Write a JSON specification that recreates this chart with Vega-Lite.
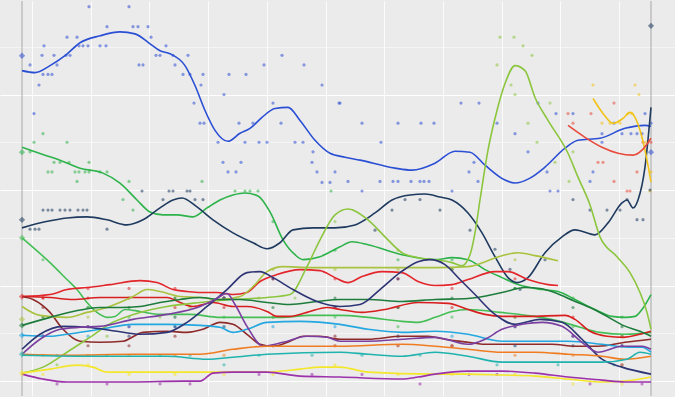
{
"$schema":"https://vega.github.io/schema/vega-lite/v6.json",
"width":675,"height":397,"autosize":{"type":"fit","contains":"padding"},"padding":0,
"background":"#EBEBEB",
"config":{"view":{"fill":"#EBEBEB","stroke":null}},
"datasets":{
"elections":[{"day":0},{"day":1887}],
"lines":[
{"p":"Blue","d":0,"v":32.5},{"p":"Blue","d":39,"v":32.29},{"p":"Blue","d":84,"v":33.02},{"p":"Blue","d":129,"v":34.06},{"p":"Blue","d":174,"v":35.42},{"p":"Blue","d":234,"v":36.15},{"p":"Blue","d":294,"v":36.56},{"p":"Blue","d":339,"v":36.35},{"p":"Blue","d":384,"v":35.31},{"p":"Blue","d":414,"v":34.58},{"p":"Blue","d":444,"v":34.27},{"p":"Blue","d":489,"v":33.02},{"p":"Blue","d":519,"v":30.94},{"p":"Blue","d":549,"v":28.33},{"p":"Blue","d":579,"v":26.25},{"p":"Blue","d":618,"v":25.1},{"p":"Blue","d":654,"v":25.94},{"p":"Blue","d":684,"v":26.46},{"p":"Blue","d":720,"v":27.6},{"p":"Blue","d":759,"v":28.54},{"p":"Blue","d":798,"v":28.65},{"p":"Blue","d":834,"v":27.29},{"p":"Blue","d":879,"v":25.21},{"p":"Blue","d":924,"v":23.85},{"p":"Blue","d":969,"v":23.44},{"p":"Blue","d":1014,"v":23.13},{"p":"Blue","d":1119,"v":22.29},{"p":"Blue","d":1170,"v":22.08},{"p":"Blue","d":1239,"v":22.81},{"p":"Blue","d":1299,"v":24.06},{"p":"Blue","d":1344,"v":23.96},{"p":"Blue","d":1389,"v":22.6},{"p":"Blue","d":1449,"v":21.04},{"p":"Blue","d":1479,"v":20.73},{"p":"Blue","d":1524,"v":21.25},{"p":"Blue","d":1569,"v":22.4},{"p":"Blue","d":1629,"v":24.38},{"p":"Blue","d":1668,"v":25.21},{"p":"Blue","d":1734,"v":25.42},{"p":"Blue","d":1809,"v":26.46},{"p":"Blue","d":1869,"v":26.77},{"p":"Blue","d":1887,"v":26.67},
{"p":"Green","d":0,"v":24.48},{"p":"Green","d":69,"v":23.65},{"p":"Green","d":114,"v":23.13},{"p":"Green","d":174,"v":22.29},{"p":"Green","d":243,"v":21.77},{"p":"Green","d":294,"v":20.73},{"p":"Green","d":345,"v":18.96},{"p":"Green","d":384,"v":17.71},{"p":"Green","d":423,"v":17.4},{"p":"Green","d":465,"v":17.4},{"p":"Green","d":513,"v":17.19},{"p":"Green","d":555,"v":18.13},{"p":"Green","d":594,"v":18.96},{"p":"Green","d":633,"v":19.48},{"p":"Green","d":669,"v":19.69},{"p":"Green","d":708,"v":19.38},{"p":"Green","d":744,"v":17.71},{"p":"Green","d":783,"v":14.79},{"p":"Green","d":819,"v":13.23},{"p":"Green","d":843,"v":12.71},{"p":"Green","d":894,"v":13.02},{"p":"Green","d":954,"v":14.06},{"p":"Green","d":990,"v":14.58},{"p":"Green","d":1038,"v":14.27},{"p":"Green","d":1140,"v":13.23},{"p":"Green","d":1239,"v":12.71},{"p":"Green","d":1290,"v":12.92},{"p":"Green","d":1338,"v":12.71},{"p":"Green","d":1389,"v":11.67},{"p":"Green","d":1440,"v":10.83},{"p":"Green","d":1488,"v":10.1},{"p":"Green","d":1560,"v":9.58},{"p":"Green","d":1608,"v":9.38},{"p":"Green","d":1659,"v":8.54},{"p":"Green","d":1719,"v":7.5},{"p":"Green","d":1770,"v":6.77},{"p":"Green","d":1809,"v":6.67},{"p":"Green","d":1839,"v":6.77},{"p":"Green","d":1860,"v":7.5},{"p":"Green","d":1887,"v":9.06},
{"p":"Green2","d":0,"v":15.0},{"p":"Green2","d":84,"v":12.4},{"p":"Green2","d":135,"v":10.63},{"p":"Green2","d":165,"v":9.58},{"p":"Green2","d":195,"v":8.23},{"p":"Green2","d":225,"v":7.19},{"p":"Green2","d":255,"v":6.67},{"p":"Green2","d":279,"v":6.77},{"p":"Green2","d":309,"v":7.5},{"p":"Green2","d":354,"v":7.29},{"p":"Green2","d":414,"v":6.98},{"p":"Green2","d":504,"v":6.98},{"p":"Green2","d":594,"v":6.67},{"p":"Green2","d":684,"v":6.67},{"p":"Green2","d":774,"v":6.67},{"p":"Green2","d":864,"v":6.88},{"p":"Green2","d":954,"v":6.88},{"p":"Green2","d":1038,"v":6.67},{"p":"Green2","d":1140,"v":6.25},{"p":"Green2","d":1188,"v":6.15},{"p":"Green2","d":1239,"v":6.67},{"p":"Green2","d":1290,"v":7.29},{"p":"Green2","d":1338,"v":7.5},{"p":"Green2","d":1434,"v":7.19},{"p":"Green2","d":1539,"v":6.77},{"p":"Green2","d":1614,"v":6.25},{"p":"Green2","d":1674,"v":5.63},{"p":"Green2","d":1734,"v":5.1},{"p":"Green2","d":1809,"v":4.9},{"p":"Green2","d":1887,"v":5.1},
{"p":"Navy","d":0,"v":16.04},{"p":"Navy","d":69,"v":16.67},{"p":"Navy","d":135,"v":17.08},{"p":"Navy","d":195,"v":17.19},{"p":"Navy","d":255,"v":16.88},{"p":"Navy","d":315,"v":16.35},{"p":"Navy","d":363,"v":16.88},{"p":"Navy","d":414,"v":18.13},{"p":"Navy","d":453,"v":18.96},{"p":"Navy","d":480,"v":19.17},{"p":"Navy","d":525,"v":18.23},{"p":"Navy","d":573,"v":16.88},{"p":"Navy","d":633,"v":15.52},{"p":"Navy","d":693,"v":14.48},{"p":"Navy","d":735,"v":13.85},{"p":"Navy","d":774,"v":14.48},{"p":"Navy","d":813,"v":15.83},{"p":"Navy","d":873,"v":16.04},{"p":"Navy","d":939,"v":16.04},{"p":"Navy","d":999,"v":16.35},{"p":"Navy","d":1059,"v":17.6},{"p":"Navy","d":1110,"v":18.96},{"p":"Navy","d":1164,"v":19.48},{"p":"Navy","d":1209,"v":19.58},{"p":"Navy","d":1254,"v":19.27},{"p":"Navy","d":1290,"v":18.96},{"p":"Navy","d":1338,"v":17.6},{"p":"Navy","d":1380,"v":15.52},{"p":"Navy","d":1419,"v":13.02},{"p":"Navy","d":1458,"v":10.83},{"p":"Navy","d":1485,"v":10.31},{"p":"Navy","d":1518,"v":10.83},{"p":"Navy","d":1569,"v":13.44},{"p":"Navy","d":1620,"v":15.1},{"p":"Navy","d":1659,"v":15.83},{"p":"Navy","d":1719,"v":15.31},{"p":"Navy","d":1758,"v":16.56},{"p":"Navy","d":1800,"v":18.65},{"p":"Navy","d":1815,"v":18.96},{"p":"Navy","d":1833,"v":18.13},{"p":"Navy","d":1848,"v":18.96},{"p":"Navy","d":1869,"v":22.4},{"p":"Navy","d":1887,"v":28.65},
{"p":"Red","d":0,"v":8.85},{"p":"Red","d":84,"v":9.06},{"p":"Red","d":135,"v":9.58},{"p":"Red","d":195,"v":9.79},{"p":"Red","d":264,"v":10.1},{"p":"Red","d":354,"v":10.52},{"p":"Red","d":405,"v":10.31},{"p":"Red","d":453,"v":9.58},{"p":"Red","d":495,"v":9.38},{"p":"Red","d":534,"v":9.27},{"p":"Red","d":585,"v":9.27},{"p":"Red","d":633,"v":9.06},{"p":"Red","d":675,"v":9.27},{"p":"Red","d":714,"v":10.42},{"p":"Red","d":765,"v":11.15},{"p":"Red","d":834,"v":11.67},{"p":"Red","d":894,"v":11.56},{"p":"Red","d":939,"v":10.83},{"p":"Red","d":978,"v":10.31},{"p":"Red","d":1020,"v":10.94},{"p":"Red","d":1080,"v":11.46},{"p":"Red","d":1140,"v":11.35},{"p":"Red","d":1188,"v":10.42},{"p":"Red","d":1239,"v":10.0},{"p":"Red","d":1290,"v":10.1},{"p":"Red","d":1338,"v":10.63},{"p":"Red","d":1419,"v":11.46},{"p":"Red","d":1458,"v":11.46},{"p":"Red","d":1518,"v":10.63},{"p":"Red","d":1578,"v":10.1},{"p":"Red","d":1608,"v":10.0},
{"p":"Red2","d":0,"v":8.85},{"p":"Red2","d":84,"v":8.75},{"p":"Red2","d":153,"v":8.54},{"p":"Red2","d":234,"v":8.75},{"p":"Red2","d":315,"v":8.75},{"p":"Red2","d":384,"v":8.75},{"p":"Red2","d":435,"v":8.75},{"p":"Red2","d":474,"v":8.23},{"p":"Red2","d":513,"v":7.81},{"p":"Red2","d":573,"v":8.23},{"p":"Red2","d":633,"v":7.81},{"p":"Red2","d":675,"v":7.81},{"p":"Red2","d":735,"v":7.29},{"p":"Red2","d":765,"v":6.77},{"p":"Red2","d":804,"v":6.77},{"p":"Red2","d":855,"v":7.19},{"p":"Red2","d":915,"v":7.71},{"p":"Red2","d":954,"v":7.5},{"p":"Red2","d":1020,"v":7.19},{"p":"Red2","d":1089,"v":7.5},{"p":"Red2","d":1188,"v":8.23},{"p":"Red2","d":1278,"v":8.13},{"p":"Red2","d":1338,"v":7.5},{"p":"Red2","d":1389,"v":6.98},{"p":"Red2","d":1440,"v":6.77},{"p":"Red2","d":1518,"v":6.77},{"p":"Red2","d":1629,"v":6.88},{"p":"Red2","d":1659,"v":6.46},{"p":"Red2","d":1704,"v":5.21},{"p":"Red2","d":1755,"v":4.69},{"p":"Red2","d":1803,"v":4.58},{"p":"Red2","d":1854,"v":4.9},{"p":"Red2","d":1887,"v":5.21},
{"p":"Brown","d":0,"v":8.85},{"p":"Brown","d":33,"v":8.54},{"p":"Brown","d":84,"v":7.19},{"p":"Brown","d":123,"v":5.42},{"p":"Brown","d":174,"v":4.17},{"p":"Brown","d":234,"v":4.06},{"p":"Brown","d":303,"v":4.17},{"p":"Brown","d":363,"v":5.1},{"p":"Brown","d":435,"v":5.21},{"p":"Brown","d":495,"v":5.1},{"p":"Brown","d":543,"v":5.42},{"p":"Brown","d":594,"v":6.15},{"p":"Brown","d":633,"v":5.94},{"p":"Brown","d":675,"v":4.9},{"p":"Brown","d":714,"v":3.85},{"p":"Brown","d":753,"v":3.65},{"p":"Brown","d":804,"v":4.17},{"p":"Brown","d":843,"v":4.69},{"p":"Brown","d":894,"v":4.69},{"p":"Brown","d":954,"v":4.38},{"p":"Brown","d":1038,"v":4.38},{"p":"Brown","d":1140,"v":4.69},{"p":"Brown","d":1218,"v":4.69},{"p":"Brown","d":1269,"v":4.38},{"p":"Brown","d":1338,"v":4.06},{"p":"Brown","d":1389,"v":3.85},{"p":"Brown","d":1488,"v":3.85},{"p":"Brown","d":1590,"v":3.85},{"p":"Brown","d":1659,"v":3.65},{"p":"Brown","d":1728,"v":3.65},{"p":"Brown","d":1809,"v":4.06},{"p":"Brown","d":1887,"v":4.38},
{"p":"Olive","d":0,"v":7.81},{"p":"Olive","d":54,"v":6.88},{"p":"Olive","d":135,"v":6.67},{"p":"Olive","d":195,"v":7.19},{"p":"Olive","d":255,"v":7.71},{"p":"Olive","d":333,"v":8.85},{"p":"Olive","d":375,"v":9.58},{"p":"Olive","d":414,"v":9.38},{"p":"Olive","d":474,"v":8.85},{"p":"Olive","d":534,"v":8.75},{"p":"Olive","d":594,"v":8.54},{"p":"Olive","d":654,"v":8.85},{"p":"Olive","d":699,"v":10.1},{"p":"Olive","d":735,"v":11.46},{"p":"Olive","d":783,"v":11.98},{"p":"Olive","d":864,"v":11.88},{"p":"Olive","d":954,"v":11.88},{"p":"Olive","d":1038,"v":11.88},{"p":"Olive","d":1134,"v":11.88},{"p":"Olive","d":1239,"v":11.88},{"p":"Olive","d":1338,"v":11.98},{"p":"Olive","d":1440,"v":13.13},{"p":"Olive","d":1488,"v":13.44},{"p":"Olive","d":1539,"v":13.13},{"p":"Olive","d":1608,"v":12.6},
{"p":"Lime","d":0,"v":0.83},{"p":"Lime","d":63,"v":1.46},{"p":"Lime","d":135,"v":3.02},{"p":"Lime","d":195,"v":4.38},{"p":"Lime","d":273,"v":6.15},{"p":"Lime","d":354,"v":7.19},{"p":"Lime","d":435,"v":7.81},{"p":"Lime","d":534,"v":8.23},{"p":"Lime","d":633,"v":8.54},{"p":"Lime","d":735,"v":8.75},{"p":"Lime","d":804,"v":9.06},{"p":"Lime","d":855,"v":11.98},{"p":"Lime","d":894,"v":14.79},{"p":"Lime","d":939,"v":17.4},{"p":"Lime","d":978,"v":18.02},{"p":"Lime","d":1038,"v":16.88},{"p":"Lime","d":1089,"v":15.1},{"p":"Lime","d":1140,"v":13.44},{"p":"Lime","d":1188,"v":12.92},{"p":"Lime","d":1239,"v":12.71},{"p":"Lime","d":1290,"v":12.4},{"p":"Lime","d":1320,"v":12.08},{"p":"Lime","d":1344,"v":13.23},{"p":"Lime","d":1359,"v":15.52},{"p":"Lime","d":1374,"v":18.96},{"p":"Lime","d":1398,"v":24.17},{"p":"Lime","d":1425,"v":28.33},{"p":"Lime","d":1449,"v":31.15},{"p":"Lime","d":1479,"v":33.02},{"p":"Lime","d":1509,"v":32.5},{"p":"Lime","d":1539,"v":29.69},{"p":"Lime","d":1578,"v":27.29},{"p":"Lime","d":1638,"v":23.85},{"p":"Lime","d":1668,"v":21.35},{"p":"Lime","d":1704,"v":18.44},{"p":"Lime","d":1734,"v":15.1},{"p":"Lime","d":1785,"v":13.02},{"p":"Lime","d":1824,"v":11.35},{"p":"Lime","d":1854,"v":9.27},{"p":"Lime","d":1875,"v":7.19},{"p":"Lime","d":1887,"v":5.42},
{"p":"DarkGreen","d":0,"v":5.83},{"p":"DarkGreen","d":84,"v":6.67},{"p":"DarkGreen","d":153,"v":7.29},{"p":"DarkGreen","d":234,"v":7.71},{"p":"DarkGreen","d":294,"v":7.71},{"p":"DarkGreen","d":354,"v":7.81},{"p":"DarkGreen","d":414,"v":8.23},{"p":"DarkGreen","d":474,"v":8.54},{"p":"DarkGreen","d":534,"v":8.75},{"p":"DarkGreen","d":594,"v":8.54},{"p":"DarkGreen","d":654,"v":8.54},{"p":"DarkGreen","d":735,"v":8.23},{"p":"DarkGreen","d":804,"v":8.02},{"p":"DarkGreen","d":885,"v":8.33},{"p":"DarkGreen","d":954,"v":8.54},{"p":"DarkGreen","d":1038,"v":8.54},{"p":"DarkGreen","d":1140,"v":8.33},{"p":"DarkGreen","d":1239,"v":8.54},{"p":"DarkGreen","d":1338,"v":8.65},{"p":"DarkGreen","d":1440,"v":9.27},{"p":"DarkGreen","d":1509,"v":9.79},{"p":"DarkGreen","d":1554,"v":9.69},{"p":"DarkGreen","d":1605,"v":9.17},{"p":"DarkGreen","d":1653,"v":8.44},{"p":"DarkGreen","d":1704,"v":7.71},{"p":"DarkGreen","d":1755,"v":6.77},{"p":"DarkGreen","d":1803,"v":5.83},{"p":"DarkGreen","d":1854,"v":5.21},{"p":"DarkGreen","d":1887,"v":4.69},
{"p":"Sky","d":0,"v":4.79},{"p":"Sky","d":84,"v":4.69},{"p":"Sky","d":135,"v":4.9},{"p":"Sky","d":234,"v":5.42},{"p":"Sky","d":333,"v":5.94},{"p":"Sky","d":435,"v":5.94},{"p":"Sky","d":534,"v":5.83},{"p":"Sky","d":594,"v":5.63},{"p":"Sky","d":633,"v":5.1},{"p":"Sky","d":675,"v":5.42},{"p":"Sky","d":735,"v":6.15},{"p":"Sky","d":834,"v":6.25},{"p":"Sky","d":954,"v":5.94},{"p":"Sky","d":1038,"v":5.42},{"p":"Sky","d":1140,"v":5.1},{"p":"Sky","d":1239,"v":5.21},{"p":"Sky","d":1338,"v":4.9},{"p":"Sky","d":1440,"v":4.17},{"p":"Sky","d":1539,"v":4.17},{"p":"Sky","d":1638,"v":4.17},{"p":"Sky","d":1740,"v":3.85},{"p":"Sky","d":1818,"v":3.54},{"p":"Sky","d":1860,"v":3.54},{"p":"Sky","d":1887,"v":3.02},
{"p":"Indigo","d":0,"v":3.33},{"p":"Indigo","d":54,"v":4.9},{"p":"Indigo","d":123,"v":5.73},{"p":"Indigo","d":195,"v":5.63},{"p":"Indigo","d":285,"v":5.21},{"p":"Indigo","d":354,"v":4.9},{"p":"Indigo","d":435,"v":5.1},{"p":"Indigo","d":495,"v":6.15},{"p":"Indigo","d":555,"v":7.81},{"p":"Indigo","d":615,"v":9.58},{"p":"Indigo","d":675,"v":11.35},{"p":"Indigo","d":714,"v":11.46},{"p":"Indigo","d":753,"v":10.83},{"p":"Indigo","d":813,"v":9.58},{"p":"Indigo","d":885,"v":8.33},{"p":"Indigo","d":954,"v":7.81},{"p":"Indigo","d":1014,"v":8.02},{"p":"Indigo","d":1074,"v":9.58},{"p":"Indigo","d":1134,"v":11.35},{"p":"Indigo","d":1188,"v":12.5},{"p":"Indigo","d":1224,"v":12.71},{"p":"Indigo","d":1269,"v":12.19},{"p":"Indigo","d":1314,"v":10.63},{"p":"Indigo","d":1359,"v":9.06},{"p":"Indigo","d":1419,"v":6.98},{"p":"Indigo","d":1479,"v":5.94},{"p":"Indigo","d":1554,"v":6.46},{"p":"Indigo","d":1620,"v":6.15},{"p":"Indigo","d":1680,"v":4.38},{"p":"Indigo","d":1740,"v":2.29},{"p":"Indigo","d":1800,"v":1.46},{"p":"Indigo","d":1887,"v":0.73},
{"p":"Purple","d":0,"v":2.81},{"p":"Purple","d":54,"v":4.38},{"p":"Purple","d":114,"v":5.42},{"p":"Purple","d":174,"v":5.63},{"p":"Purple","d":234,"v":5.73},{"p":"Purple","d":333,"v":6.46},{"p":"Purple","d":435,"v":6.98},{"p":"Purple","d":534,"v":7.81},{"p":"Purple","d":579,"v":8.54},{"p":"Purple","d":615,"v":9.17},{"p":"Purple","d":639,"v":8.02},{"p":"Purple","d":675,"v":5.73},{"p":"Purple","d":723,"v":3.65},{"p":"Purple","d":783,"v":4.06},{"p":"Purple","d":855,"v":4.69},{"p":"Purple","d":915,"v":4.58},{"p":"Purple","d":954,"v":4.17},{"p":"Purple","d":1038,"v":4.17},{"p":"Purple","d":1140,"v":4.38},{"p":"Purple","d":1239,"v":4.58},{"p":"Purple","d":1338,"v":3.85},{"p":"Purple","d":1389,"v":4.38},{"p":"Purple","d":1440,"v":5.42},{"p":"Purple","d":1500,"v":5.94},{"p":"Purple","d":1560,"v":6.15},{"p":"Purple","d":1620,"v":5.73},{"p":"Purple","d":1680,"v":4.06},{"p":"Purple","d":1728,"v":3.02},{"p":"Purple","d":1800,"v":3.65},{"p":"Purple","d":1860,"v":3.65},{"p":"Purple","d":1887,"v":3.33},
{"p":"Orange","d":0,"v":2.81},{"p":"Orange","d":135,"v":2.71},{"p":"Orange","d":333,"v":2.81},{"p":"Orange","d":534,"v":2.81},{"p":"Orange","d":633,"v":3.33},{"p":"Orange","d":735,"v":3.65},{"p":"Orange","d":954,"v":3.65},{"p":"Orange","d":1140,"v":3.85},{"p":"Orange","d":1239,"v":3.65},{"p":"Orange","d":1338,"v":3.33},{"p":"Orange","d":1440,"v":3.02},{"p":"Orange","d":1539,"v":3.02},{"p":"Orange","d":1638,"v":2.81},{"p":"Orange","d":1740,"v":2.6},{"p":"Orange","d":1809,"v":2.29},{"p":"Orange","d":1887,"v":2.6},
{"p":"Teal","d":0,"v":2.71},{"p":"Teal","d":234,"v":2.6},{"p":"Teal","d":435,"v":2.6},{"p":"Teal","d":555,"v":2.29},{"p":"Teal","d":633,"v":2.5},{"p":"Teal","d":735,"v":2.81},{"p":"Teal","d":954,"v":3.02},{"p":"Teal","d":1038,"v":2.81},{"p":"Teal","d":1140,"v":2.6},{"p":"Teal","d":1239,"v":3.02},{"p":"Teal","d":1338,"v":2.6},{"p":"Teal","d":1440,"v":1.98},{"p":"Teal","d":1539,"v":1.98},{"p":"Teal","d":1638,"v":1.98},{"p":"Teal","d":1740,"v":1.98},{"p":"Teal","d":1815,"v":2.29},{"p":"Teal","d":1854,"v":3.02},{"p":"Teal","d":1887,"v":2.81},
{"p":"Yellow","d":0,"v":0.83},{"p":"Yellow","d":84,"v":1.25},{"p":"Yellow","d":165,"v":1.67},{"p":"Yellow","d":213,"v":1.46},{"p":"Yellow","d":255,"v":0.94},{"p":"Yellow","d":435,"v":0.94},{"p":"Yellow","d":633,"v":0.94},{"p":"Yellow","d":735,"v":0.94},{"p":"Yellow","d":834,"v":1.25},{"p":"Yellow","d":894,"v":1.46},{"p":"Yellow","d":954,"v":1.46},{"p":"Yellow","d":1038,"v":0.94},{"p":"Yellow","d":1239,"v":0.73},{"p":"Yellow","d":1338,"v":0.73},{"p":"Yellow","d":1440,"v":0.63},{"p":"Yellow","d":1539,"v":0.52},{"p":"Yellow","d":1638,"v":0.21},{"p":"Yellow","d":1740,"v":-0.1},{"p":"Yellow","d":1809,"v":0.0},{"p":"Yellow","d":1887,"v":0.42},
{"p":"Magenta","d":0,"v":0.73},{"p":"Magenta","d":63,"v":0.21},{"p":"Magenta","d":135,"v":-0.1},{"p":"Magenta","d":333,"v":-0.1},{"p":"Magenta","d":483,"v":0.0},{"p":"Magenta","d":534,"v":0.0},{"p":"Magenta","d":573,"v":0.83},{"p":"Magenta","d":633,"v":0.94},{"p":"Magenta","d":735,"v":0.94},{"p":"Magenta","d":834,"v":0.52},{"p":"Magenta","d":954,"v":0.42},{"p":"Magenta","d":1140,"v":0.21},{"p":"Magenta","d":1188,"v":0.42},{"p":"Magenta","d":1239,"v":0.73},{"p":"Magenta","d":1338,"v":1.04},{"p":"Magenta","d":1440,"v":1.04},{"p":"Magenta","d":1539,"v":0.83},{"p":"Magenta","d":1638,"v":0.42},{"p":"Magenta","d":1740,"v":0.1},{"p":"Magenta","d":1809,"v":-0.1},{"p":"Magenta","d":1887,"v":-0.1},
{"p":"Gold","d":1713,"v":29.58},{"p":"Gold","d":1743,"v":28.02},{"p":"Gold","d":1773,"v":26.98},{"p":"Gold","d":1803,"v":27.5},{"p":"Gold","d":1824,"v":28.13},{"p":"Gold","d":1839,"v":27.6},{"p":"Gold","d":1854,"v":26.25},{"p":"Gold","d":1869,"v":24.17},{"p":"Gold","d":1887,"v":20.83},
{"p":"Coral","d":1638,"v":26.77},{"p":"Coral","d":1689,"v":25.52},{"p":"Coral","d":1740,"v":24.48},{"p":"Coral","d":1788,"v":23.85},{"p":"Coral","d":1833,"v":23.65},{"p":"Coral","d":1860,"v":24.17},{"p":"Coral","d":1887,"v":25.42}
],
"dots":[
{"p":"Blue","d":201,"v":39.2},{"p":"Blue","d":321,"v":39.2},{"p":"Blue","d":255,"v":37.1},{"p":"Blue","d":333,"v":37.1},{"p":"Blue","d":348,"v":37.1},{"p":"Blue","d":378,"v":37.1},{"p":"Blue","d":135,"v":36.0},{"p":"Blue","d":165,"v":36.0},{"p":"Blue","d":387,"v":36.0},{"p":"Blue","d":66,"v":35.1},{"p":"Blue","d":171,"v":35.1},{"p":"Blue","d":183,"v":35.1},{"p":"Blue","d":198,"v":35.1},{"p":"Blue","d":234,"v":35.1},{"p":"Blue","d":252,"v":35.1},{"p":"Blue","d":432,"v":35.1},{"p":"Blue","d":24,"v":33.1},{"p":"Blue","d":60,"v":34.1},{"p":"Blue","d":96,"v":34.1},{"p":"Blue","d":132,"v":34.1},{"p":"Blue","d":144,"v":34.1},{"p":"Blue","d":402,"v":34.1},{"p":"Blue","d":414,"v":34.1},{"p":"Blue","d":453,"v":34.1},{"p":"Blue","d":498,"v":34.1},{"p":"Blue","d":351,"v":33.1},{"p":"Blue","d":363,"v":33.1},{"p":"Blue","d":105,"v":33.1},{"p":"Blue","d":63,"v":32.1},{"p":"Blue","d":78,"v":32.1},{"p":"Blue","d":90,"v":32.1},{"p":"Blue","d":459,"v":33.1},{"p":"Blue","d":483,"v":32.1},{"p":"Blue","d":504,"v":32.1},{"p":"Blue","d":543,"v":32.1},{"p":"Blue","d":51,"v":31.0},{"p":"Blue","d":537,"v":31.0},{"p":"Blue","d":36,"v":28.0},{"p":"Blue","d":516,"v":29.1},{"p":"Blue","d":534,"v":27.0},{"p":"Blue","d":546,"v":27.0},{"p":"Blue","d":621,"v":32.1},{"p":"Blue","d":672,"v":32.1},{"p":"Blue","d":606,"v":30.0},{"p":"Blue","d":726,"v":33.1},{"p":"Blue","d":780,"v":34.1},{"p":"Blue","d":846,"v":33.1},{"p":"Blue","d":900,"v":31.0},{"p":"Blue","d":951,"v":29.1},{"p":"Blue","d":753,"v":29.1},{"p":"Blue","d":777,"v":27.0},{"p":"Blue","d":651,"v":27.0},{"p":"Blue","d":693,"v":27.0},{"p":"Blue","d":588,"v":25.0},{"p":"Blue","d":669,"v":25.0},{"p":"Blue","d":711,"v":25.0},{"p":"Blue","d":735,"v":25.0},{"p":"Blue","d":819,"v":25.0},{"p":"Blue","d":843,"v":25.0},{"p":"Blue","d":603,"v":22.9},{"p":"Blue","d":657,"v":22.9},{"p":"Blue","d":618,"v":21.9},{"p":"Blue","d":642,"v":21.9},{"p":"Blue","d":873,"v":24.0},{"p":"Blue","d":870,"v":22.9},{"p":"Blue","d":885,"v":21.9},{"p":"Blue","d":900,"v":20.8},{"p":"Blue","d":924,"v":20.8},{"p":"Blue","d":939,"v":21.9},{"p":"Blue","d":954,"v":29.1},{"p":"Blue","d":1317,"v":29.1},{"p":"Blue","d":1371,"v":29.1},{"p":"Blue","d":1020,"v":27.0},{"p":"Blue","d":1128,"v":27.0},{"p":"Blue","d":1197,"v":27.0},{"p":"Blue","d":1236,"v":27.0},{"p":"Blue","d":1077,"v":25.0},{"p":"Blue","d":978,"v":20.9},{"p":"Blue","d":1074,"v":20.9},{"p":"Blue","d":1113,"v":20.9},{"p":"Blue","d":1128,"v":20.9},{"p":"Blue","d":1167,"v":20.9},{"p":"Blue","d":1194,"v":20.9},{"p":"Blue","d":1206,"v":20.9},{"p":"Blue","d":1221,"v":20.9},{"p":"Blue","d":1020,"v":19.9},{"p":"Blue","d":1290,"v":19.9},{"p":"Blue","d":1341,"v":21.9},{"p":"Blue","d":1356,"v":22.9},{"p":"Blue","d":1368,"v":20.9},{"p":"Blue","d":1425,"v":27.0},{"p":"Blue","d":1479,"v":25.9},{"p":"Blue","d":1518,"v":24.0},{"p":"Blue","d":1548,"v":29.1},{"p":"Blue","d":1575,"v":21.9},{"p":"Blue","d":1602,"v":28.0},{"p":"Blue","d":1584,"v":19.9},{"p":"Blue","d":1608,"v":19.9},{"p":"Blue","d":1653,"v":28.0},{"p":"Blue","d":1713,"v":21.9},{"p":"Blue","d":1704,"v":20.9},{"p":"Blue","d":1740,"v":25.9},{"p":"Blue","d":1740,"v":25.0},{"p":"Blue","d":1776,"v":27.0},{"p":"Blue","d":1800,"v":25.9},{"p":"Blue","d":1827,"v":25.9},{"p":"Blue","d":1845,"v":25.9},{"p":"Blue","d":1860,"v":25.9},{"p":"Blue","d":1869,"v":28.0},{"p":"Blue","d":1887,"v":27.0},
{"p":"Gold","d":1713,"v":31.0},{"p":"Gold","d":1839,"v":31.0},{"p":"Gold","d":1851,"v":30.0},{"p":"Gold","d":1818,"v":28.0},{"p":"Gold","d":1764,"v":27.0},{"p":"Gold","d":1740,"v":27.0},{"p":"Gold","d":1872,"v":25.0},{"p":"Gold","d":1887,"v":21.9},{"p":"Gold","d":1884,"v":19.9},{"p":"Gold","d":1794,"v":27.0},{"p":"Gold","d":1830,"v":28.0},
{"p":"Lime","d":1434,"v":36.0},{"p":"Lime","d":1476,"v":36.0},{"p":"Lime","d":1503,"v":35.1},{"p":"Lime","d":1530,"v":34.1},{"p":"Lime","d":1425,"v":33.1},{"p":"Lime","d":1467,"v":31.0},{"p":"Lime","d":1479,"v":30.0},{"p":"Lime","d":1518,"v":27.0},{"p":"Lime","d":1545,"v":25.0},{"p":"Lime","d":1584,"v":29.1},{"p":"Lime","d":1599,"v":22.9},{"p":"Lime","d":1653,"v":24.0},{"p":"Lime","d":1641,"v":20.9},
{"p":"Coral","d":1638,"v":28.0},{"p":"Coral","d":1653,"v":27.0},{"p":"Coral","d":1707,"v":28.0},{"p":"Coral","d":1776,"v":29.1},{"p":"Coral","d":1728,"v":22.9},{"p":"Coral","d":1743,"v":22.9},{"p":"Coral","d":1776,"v":20.9},{"p":"Coral","d":1815,"v":19.9},{"p":"Coral","d":1824,"v":19.9},{"p":"Coral","d":1845,"v":21.9},{"p":"Coral","d":1863,"v":25.0},{"p":"Coral","d":1887,"v":25.0},
{"p":"Green","d":63,"v":25.9},{"p":"Green","d":24,"v":24.0},{"p":"Green","d":36,"v":25.0},{"p":"Green","d":135,"v":25.0},{"p":"Green","d":96,"v":22.9},{"p":"Green","d":114,"v":22.9},{"p":"Green","d":141,"v":22.9},{"p":"Green","d":201,"v":22.9},{"p":"Green","d":78,"v":21.9},{"p":"Green","d":90,"v":21.9},{"p":"Green","d":159,"v":21.9},{"p":"Green","d":171,"v":21.9},{"p":"Green","d":189,"v":21.9},{"p":"Green","d":201,"v":21.9},{"p":"Green","d":234,"v":21.9},{"p":"Green","d":255,"v":21.9},{"p":"Green","d":165,"v":20.9},{"p":"Green","d":321,"v":20.9},{"p":"Green","d":540,"v":20.9},{"p":"Green","d":927,"v":19.9},{"p":"Green","d":303,"v":19.0},{"p":"Green","d":333,"v":17.9},{"p":"Green","d":639,"v":19.9},{"p":"Green","d":669,"v":19.9},{"p":"Green","d":684,"v":19.9},{"p":"Green","d":708,"v":19.9},
{"p":"Green","d":753,"v":16.7},{"p":"Green","d":939,"v":13.7},{"p":"Green","d":1128,"v":12.7},{"p":"Green","d":1290,"v":12.7},{"p":"Green","d":1479,"v":9.7},{"p":"Green","d":1653,"v":8.7},{"p":"Green","d":1800,"v":6.7},
{"p":"Navy","d":63,"v":17.9},{"p":"Navy","d":78,"v":17.9},{"p":"Navy","d":90,"v":17.9},{"p":"Navy","d":114,"v":17.9},{"p":"Navy","d":129,"v":17.9},{"p":"Navy","d":144,"v":17.9},{"p":"Navy","d":168,"v":17.9},{"p":"Navy","d":183,"v":17.9},{"p":"Navy","d":195,"v":17.9},{"p":"Navy","d":24,"v":15.9},{"p":"Navy","d":39,"v":15.9},{"p":"Navy","d":51,"v":15.9},{"p":"Navy","d":255,"v":15.9},{"p":"Navy","d":360,"v":19.9},{"p":"Navy","d":441,"v":19.9},{"p":"Navy","d":453,"v":19.9},{"p":"Navy","d":495,"v":19.9},{"p":"Navy","d":504,"v":19.9},{"p":"Navy","d":423,"v":19.0},{"p":"Navy","d":519,"v":19.0},{"p":"Navy","d":543,"v":19.0},{"p":"Navy","d":1653,"v":19.0},{"p":"Navy","d":1704,"v":17.9},{"p":"Navy","d":1755,"v":17.9},{"p":"Navy","d":1794,"v":17.9},{"p":"Navy","d":1815,"v":19.0},{"p":"Navy","d":1845,"v":16.9},{"p":"Navy","d":1863,"v":16.9},{"p":"Navy","d":1884,"v":20.0},{"p":"Navy","d":1059,"v":15.8},{"p":"Navy","d":1110,"v":17.9},{"p":"Navy","d":1149,"v":19.0},{"p":"Navy","d":1194,"v":19.0},{"p":"Navy","d":1254,"v":17.9},{"p":"Navy","d":1344,"v":15.8},{"p":"Navy","d":1419,"v":13.8},{"p":"Navy","d":1464,"v":11.7},{"p":"Navy","d":1494,"v":9.6},{"p":"Navy","d":1569,"v":12.7},
{"p":"Red","d":63,"v":8.7},{"p":"Red","d":198,"v":9.7},{"p":"Red","d":321,"v":9.7},{"p":"Red","d":459,"v":9.7},{"p":"Red","d":606,"v":8.7},{"p":"Red","d":753,"v":10.7},{"p":"Red","d":939,"v":10.7},{"p":"Red","d":1128,"v":10.7},{"p":"Red","d":1290,"v":9.7},{"p":"Red","d":1479,"v":10.7},
{"p":"Red2","d":63,"v":8.7},{"p":"Red2","d":198,"v":8.7},{"p":"Red2","d":321,"v":8.7},{"p":"Red2","d":459,"v":7.7},{"p":"Red2","d":606,"v":7.7},{"p":"Red2","d":753,"v":6.7},{"p":"Red2","d":939,"v":7.7},{"p":"Red2","d":1128,"v":7.7},{"p":"Red2","d":1290,"v":7.7},{"p":"Red2","d":1479,"v":6.7},{"p":"Red2","d":1653,"v":6.7},{"p":"Red2","d":1800,"v":4.7},
{"p":"Brown","d":63,"v":7.7},{"p":"Brown","d":198,"v":3.7},{"p":"Brown","d":321,"v":3.7},{"p":"Brown","d":459,"v":4.7},{"p":"Brown","d":606,"v":5.7},{"p":"Brown","d":753,"v":3.7},{"p":"Brown","d":939,"v":4.7},{"p":"Brown","d":1128,"v":4.7},{"p":"Brown","d":1290,"v":3.7},{"p":"Brown","d":1479,"v":3.7},{"p":"Brown","d":1653,"v":3.7},{"p":"Brown","d":1800,"v":3.7},
{"p":"Olive","d":63,"v":6.7},{"p":"Olive","d":198,"v":6.7},{"p":"Olive","d":321,"v":8.7},{"p":"Olive","d":459,"v":8.7},{"p":"Olive","d":606,"v":8.7},{"p":"Olive","d":753,"v":11.7},{"p":"Olive","d":939,"v":11.7},{"p":"Olive","d":1128,"v":11.7},{"p":"Olive","d":1290,"v":11.7},{"p":"Olive","d":1479,"v":12.7},
{"p":"DarkGreen","d":63,"v":6.7},{"p":"DarkGreen","d":198,"v":7.7},{"p":"DarkGreen","d":321,"v":7.7},{"p":"DarkGreen","d":459,"v":8.7},{"p":"DarkGreen","d":606,"v":8.7},{"p":"DarkGreen","d":753,"v":7.7},{"p":"DarkGreen","d":939,"v":8.7},{"p":"DarkGreen","d":1128,"v":7.7},{"p":"DarkGreen","d":1290,"v":8.7},{"p":"DarkGreen","d":1479,"v":9.7},{"p":"DarkGreen","d":1653,"v":7.7},{"p":"DarkGreen","d":1800,"v":5.7},
{"p":"Sky","d":63,"v":4.7},{"p":"Sky","d":198,"v":4.7},{"p":"Sky","d":321,"v":5.7},{"p":"Sky","d":459,"v":5.7},{"p":"Sky","d":606,"v":5.7},{"p":"Sky","d":753,"v":5.7},{"p":"Sky","d":939,"v":5.7},{"p":"Sky","d":1128,"v":4.7},{"p":"Sky","d":1290,"v":4.7},{"p":"Sky","d":1479,"v":3.7},{"p":"Sky","d":1653,"v":3.7},{"p":"Sky","d":1800,"v":3.7},
{"p":"Indigo","d":63,"v":4.7},{"p":"Indigo","d":198,"v":5.7},{"p":"Indigo","d":321,"v":4.7},{"p":"Indigo","d":459,"v":5.7},{"p":"Indigo","d":606,"v":8.7},{"p":"Indigo","d":753,"v":10.7},{"p":"Indigo","d":939,"v":7.7},{"p":"Indigo","d":1128,"v":10.7},{"p":"Indigo","d":1290,"v":11.7},{"p":"Indigo","d":1479,"v":5.7},{"p":"Indigo","d":1653,"v":4.7},{"p":"Indigo","d":1800,"v":1.7},
{"p":"Purple","d":63,"v":4.7},{"p":"Purple","d":198,"v":5.7},{"p":"Purple","d":321,"v":5.7},{"p":"Purple","d":459,"v":6.7},{"p":"Purple","d":606,"v":8.7},{"p":"Purple","d":753,"v":3.7},{"p":"Purple","d":939,"v":3.7},{"p":"Purple","d":1128,"v":3.7},{"p":"Purple","d":1290,"v":3.7},{"p":"Purple","d":1479,"v":5.7},{"p":"Purple","d":1653,"v":4.7},{"p":"Purple","d":1800,"v":3.7},
{"p":"Orange","d":63,"v":2.7},{"p":"Orange","d":198,"v":2.7},{"p":"Orange","d":321,"v":2.7},{"p":"Orange","d":459,"v":2.7},{"p":"Orange","d":606,"v":2.7},{"p":"Orange","d":753,"v":3.7},{"p":"Orange","d":939,"v":3.7},{"p":"Orange","d":1128,"v":3.7},{"p":"Orange","d":1290,"v":3.7},{"p":"Orange","d":1479,"v":2.7},{"p":"Orange","d":1653,"v":2.7},{"p":"Orange","d":1800,"v":1.7},
{"p":"Teal","d":105,"v":2.7},{"p":"Teal","d":255,"v":2.7},{"p":"Teal","d":414,"v":2.7},{"p":"Teal","d":504,"v":2.7},{"p":"Teal","d":606,"v":1.7},{"p":"Teal","d":711,"v":2.7},{"p":"Teal","d":870,"v":2.7},{"p":"Teal","d":1020,"v":2.7},{"p":"Teal","d":1194,"v":2.7},{"p":"Teal","d":1425,"v":1.7},{"p":"Teal","d":1608,"v":1.7},{"p":"Teal","d":1776,"v":1.7},
{"p":"Yellow","d":63,"v":0.7},{"p":"Yellow","d":198,"v":1.7},{"p":"Yellow","d":321,"v":0.7},{"p":"Yellow","d":459,"v":0.7},{"p":"Yellow","d":606,"v":0.7},{"p":"Yellow","d":753,"v":0.7},{"p":"Yellow","d":939,"v":1.7},{"p":"Yellow","d":1128,"v":0.7},{"p":"Yellow","d":1290,"v":0.7},{"p":"Yellow","d":1479,"v":0.7},{"p":"Yellow","d":1653,"v":-0.3},{"p":"Yellow","d":1800,"v":-0.3},
{"p":"Magenta","d":105,"v":-0.3},{"p":"Magenta","d":255,"v":-0.3},{"p":"Magenta","d":414,"v":-0.3},{"p":"Magenta","d":504,"v":-0.3},{"p":"Magenta","d":711,"v":0.7},{"p":"Magenta","d":870,"v":0.7},{"p":"Magenta","d":1020,"v":0.7},{"p":"Magenta","d":1194,"v":-0.3},{"p":"Magenta","d":1341,"v":0.7},{"p":"Magenta","d":1425,"v":0.7},{"p":"Magenta","d":1704,"v":-0.3},{"p":"Magenta","d":1860,"v":-0.3},
{"p":"Green2","d":63,"v":12.7},{"p":"Green2","d":198,"v":7.7},{"p":"Green2","d":321,"v":6.7},{"p":"Green2","d":459,"v":6.7},{"p":"Green2","d":606,"v":6.7},{"p":"Green2","d":753,"v":6.7},{"p":"Green2","d":939,"v":6.7},{"p":"Green2","d":1128,"v":5.7},{"p":"Green2","d":1290,"v":6.7},{"p":"Green2","d":1479,"v":6.7},{"p":"Green2","d":1653,"v":5.7},{"p":"Green2","d":1800,"v":4.7},
{"p":"Lime","d":105,"v":1.7},{"p":"Lime","d":255,"v":4.7},{"p":"Lime","d":414,"v":6.7},{"p":"Lime","d":504,"v":7.7},{"p":"Lime","d":711,"v":8.7},{"p":"Lime","d":819,"v":8.7},{"p":"Lime","d":939,"v":16.7},{"p":"Lime","d":1128,"v":13.7},{"p":"Lime","d":1290,"v":11.7}
],
"results":[
{"p":"Blue","d":0,"v":34.06},{"p":"Green","d":0,"v":23.96},{"p":"Navy","d":0,"v":16.88},{"p":"Green2","d":0,"v":15.0},{"p":"Red","d":0,"v":8.85},{"p":"Olive","d":0,"v":6.46},{"p":"DarkGreen","d":0,"v":5.83},{"p":"Sky","d":0,"v":4.79},{"p":"Teal","d":0,"v":2.81},{"p":"Yellow","d":0,"v":0.83},
{"p":"Navy","d":1887,"v":37.19},{"p":"Blue","d":1887,"v":23.96}
]
},
"layer":[
{"data":{"name":"elections"},"mark":{"type":"rule","color":"#a8a8a8","strokeWidth":1},
 "encoding":{"x":{"field":"day","type":"quantitative","scale":{"domain":[-66,1959],"nice":false,"zero":false},
  "axis":{"values":[30,206,382,558,734,911,1087,1263,1439,1615,1791],"labels":false,"ticks":false,"domain":false,"title":null,"grid":true,"gridColor":"#ffffff","gridWidth":0.8}}}},
{"data":{"name":"dots"},"mark":{"type":"circle","size":10,"opacity":0.55},
 "encoding":{"x":{"field":"d","type":"quantitative"},
  "y":{"field":"v","type":"quantitative","scale":{"domain":[-1.5625,39.79],"nice":false,"zero":false},
   "axis":{"values":[0,5,10,15,20,25,30,35],"labels":false,"ticks":false,"domain":false,"title":null,"grid":true,"gridColor":"#ffffff","gridWidth":{"condition":{"test":"datum.value % 10 === 0","value":1.1},"value":0.5}}},
  "color":{"field":"p","type":"nominal","legend":null,"scale":{"domain":["Blue","Green","Green2","Navy","Red","Red2","Brown","Olive","Lime","DarkGreen","Sky","Indigo","Purple","Orange","Teal","Yellow","Magenta","Gold","Coral"],"range":["#2b4fd4","#2db34a","#45bf55","#1e3a5f","#e3262b","#d81e1e","#8e2a2a","#a9c23f","#8cc63e","#1d7c3c","#23a7e0","#2e3574","#7a3fa0","#f07c22","#1fb3ae","#f4e62a","#9c31ab","#f2c318","#e84a3c"]}}}},
{"data":{"name":"lines"},"mark":{"type":"line","interpolate":"monotone","strokeWidth":1.6},
 "encoding":{"x":{"field":"d","type":"quantitative"},"y":{"field":"v","type":"quantitative"},"color":{"field":"p","type":"nominal","legend":null}}},
{"data":{"name":"results"},"mark":{"type":"point","shape":"diamond","size":40,"filled":true,"opacity":0.55},
 "encoding":{"x":{"field":"d","type":"quantitative"},"y":{"field":"v","type":"quantitative"},"color":{"field":"p","type":"nominal","legend":null}}}
]
}
